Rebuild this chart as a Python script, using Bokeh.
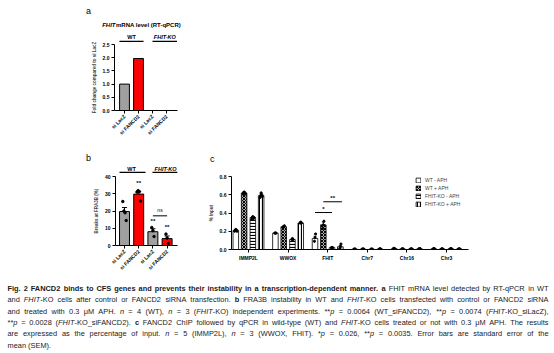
import math
import re
from bokeh.plotting import figure
from bokeh.models import (Range1d, FixedTicker, Whisker, TeeHead, ColumnDataSource,
                          Legend, LegendItem, NumeralTickFormatter)
from bokeh.layouts import column, row
from bokeh.embed import file_html
from bokeh.resources import INLINE
from bokeh.core.properties import value

# ---------------- data ----------------
# panel a
a_labels = ["si LacZ", "si FANCD2", "si LacZ", "si FANCD2"]
a_values = [1.0, 1.97, 0.0, 0.0]
a_colors = ["#a0a0a0", "#ff0000", "#a0a0a0", "#ff0000"]
a_yticks = [0.0, 0.5, 1.0, 1.5, 2.0, 2.5]

# panel b
b_labels = ["si LacZ", "si FANCD2", "si LacZ", "si FANCD2"]
b_means = [19.7, 29.8, 8.0, 4.0]
b_sem = [2.3, 1.6, 1.7, 1.5]
b_points = [[25.5, 20.0, 19.0, 14.5], [31.0, 31.8, 31.2, 25.8], [10.4, 8.6, 5.2], [6.6, 4.3, 1.2]]
b_stars = ["", "**", "**", "**"]
b_star_y = [0, 36.2, 14.4, 10.8]
b_yticks = [0, 10, 20, 30, 40]

# panel c
c_groups = ["IMMP2L", "WWOX", "FHIT", "Chr7", "Chr16", "Chr3"]
c_conditions = ["WT - APH", "WT + APH", "FHIT-KO - APH", "FHIT-KO + APH"]
c_wt_minus = [0.21, 0.18, 0.12, 0.004, 0.010, 0.008]
c_wt_plus = [0.62, 0.25, 0.27, 0.005, 0.006, 0.006]
c_ko_minus = [0.35, 0.11, 0.02, 0.004, 0.006, 0.008]
c_ko_plus = [0.59, 0.29, 0.03, 0.006, 0.008, 0.006]
c_sem_wt_minus = [0.010, 0.003, 0.025, 0.002, 0.002, 0.002]
c_sem_wt_plus = [0.010, 0.008, 0.030, 0.002, 0.002, 0.002]
c_sem_ko_minus = [0.012, 0.006, 0.004, 0.002, 0.002, 0.002]
c_sem_ko_plus = [0.020, 0.008, 0.015, 0.002, 0.002, 0.002]
c_pts_wt_minus = [[0.20, 0.21, 0.22, 0.21, 0.20], [0.18, 0.18, 0.18], [0.09, 0.13, 0.17],
                  [0.004, 0.004, 0.005], [0.012, 0.010, 0.008], [0.008, 0.008, 0.009]]
c_pts_wt_plus = [[0.61, 0.62, 0.63, 0.62, 0.61], [0.24, 0.25, 0.26], [0.23, 0.27, 0.31],
                 [0.005, 0.005, 0.006], [0.006, 0.006, 0.007], [0.006, 0.007, 0.006]]
c_pts_ko_minus = [[0.33, 0.35, 0.36, 0.34, 0.35], [0.11, 0.12, 0.11], [0.02, 0.02, 0.02],
                  [0.004, 0.004, 0.004], [0.006, 0.006, 0.007], [0.008, 0.008, 0.009]]
c_pts_ko_plus = [[0.57, 0.59, 0.62, 0.60, 0.58], [0.29, 0.30, 0.29], [0.01, 0.03, 0.06],
                 [0.006, 0.006, 0.007], [0.008, 0.008, 0.009], [0.006, 0.006, 0.007]]
c_yticks = [0.0, 0.2, 0.4, 0.6, 0.8]

caption_lines = [
    "<b>Fig. 2 FANCD2 binds to CFS genes and prevents their instability in a transcription-dependent manner. a</b> FHIT mRNA level detected by RT-qPCR in WT",
    "and <i>FHIT</i>-KO cells after control or FANCD2 siRNA transfection. <b>b</b> FRA3B instability in WT and <i>FHIT</i>-KO cells transfected with control or FANCD2 siRNA",
    "and treated with 0.3 \u03bcM APH. <i>n</i> = 4 (WT), <i>n</i> = 3 (<i>FHIT</i>-KO) independent experiments. **<i>p</i> = 0.0064 (WT_siFANCD2), **<i>p</i> = 0.0074 (<i>FHIT</i>-KO_siLacZ),",
    "**<i>p</i> = 0.0028 (<i>FHIT</i>-KO_siFANCD2). <b>c</b> FANCD2 ChIP followed by qPCR in wild-type (WT) and <i>FHIT</i>-KO cells treated or not with 0.3 \u03bcM APH. The results",
    "are expressed as the percentage of input. <i>n</i> = 5 (IMMP2L), <i>n</i> = 3 (WWOX, FHIT). *<i>p</i> = 0.026, **<i>p</i> = 0.0035. Error bars are standard error of the",
    "mean (SEM).",
]

FONT = "Liberation Sans"
TF = value(FONT)

# Arial / Liberation Sans advance widths (1/1000 em)
_REG = {' ': 278, '(': 333, ')': 333, '*': 389, ',': 278, '-': 333, '.': 278, ':': 278, '=': 584, '_': 556,
        'A': 667, 'B': 667, 'C': 722, 'D': 722, 'E': 667, 'F': 611, 'G': 778, 'H': 722, 'I': 278, 'J': 500,
        'K': 667, 'L': 556, 'M': 833, 'N': 722, 'O': 778, 'P': 667, 'Q': 778, 'R': 722, 'S': 667, 'T': 611,
        'U': 722, 'V': 667, 'W': 944, 'X': 667, 'Y': 667, 'Z': 611,
        'a': 556, 'b': 556, 'c': 500, 'd': 556, 'e': 556, 'f': 278, 'g': 556, 'h': 556, 'i': 222, 'j': 222,
        'k': 500, 'l': 222, 'm': 833, 'n': 556, 'o': 556, 'p': 556, 'q': 556, 'r': 333, 's': 500, 't': 278,
        'u': 556, 'v': 500, 'w': 722, 'x': 500, 'y': 500, 'z': 500}
_BOLD = dict(_REG)
_BOLD.update({':': 333, 'A': 722, 'B': 722, 'J': 556, 'K': 722, 'L': 611,
              'b': 611, 'c': 556, 'd': 611, 'f': 333, 'g': 611, 'h': 611, 'i': 278, 'j': 278, 'k': 556,
              'l': 278, 'm': 889, 'n': 611, 'o': 611, 'p': 611, 'q': 611, 'r': 389, 's': 556, 't': 333,
              'u': 611, 'v': 556, 'w': 778, 'x': 556, 'y': 556})


def twidth(s, st, fs):
    tab = _BOLD if st == "bold" else _REG
    return sum(tab.get(ch, 556) for ch in s) / 1000.0 * fs


def style(p, tick_fs="5px"):
    for ax in p.axis:
        ax.axis_line_color = "black"
        ax.axis_line_width = 1
        ax.major_tick_line_color = "black"
        ax.major_tick_line_width = 1
        ax.major_tick_in = 0
        ax.major_tick_out = 3
        ax.minor_tick_line_color = None
        ax.major_label_text_font = FONT
        ax.major_label_text_font_size = tick_fs
        ax.major_label_text_font_style = "bold"
        ax.major_label_text_color = "black"
        ax.axis_label_text_font = FONT
        ax.axis_label_text_font_size = "4.5px"
        ax.axis_label_text_font_style = "bold"
        ax.major_label_standoff = 2
        ax.axis_label_standoff = 3
    p.grid.visible = False
    p.outline_line_color = None
    p.background_fill_color = "white"
    p.border_fill_color = "white"


def header(width, height):
    # strip whose data units are its own pixels (y grows downwards)
    h = figure(width=width, height=height, x_range=Range1d(0, width), y_range=Range1d(height, 0),
               output_backend="svg", toolbar_location=None, min_border=0,
               x_axis_type=None, y_axis_type=None, frame_align=False)
    h.grid.visible = False
    h.outline_line_color = None
    return h


def htext(h, x, y, t, size="5.5px", st="bold", align="center"):
    h.text(x=[x], y=[y], text=[t], text_font=TF, text_font_size=size, text_font_style=st,
           text_align=align, text_baseline="middle", text_color="black")


def to_px(fig_left, x0, scale, x):
    return fig_left + (x - x0) * scale


xs4 = [0, 1, 2, 3]

# ---------------- panel a ----------------
A_X0, A_X1 = -0.714, 3.786
pa = figure(width=200, height=98, x_range=Range1d(A_X0, A_X1), y_range=Range1d(0, 2.5),
            output_backend="svg", toolbar_location=None, frame_align=False,
            min_border_left=114, min_border_right=23, min_border_top=2, min_border_bottom=23)
pa.vbar(x=xs4, top=a_values, width=0.7, fill_color=a_colors, line_color="black", line_width=1)
style(pa)
pa.xaxis.ticker = FixedTicker(ticks=xs4)
pa.xaxis.major_label_overrides = {i: t for i, t in zip(xs4, a_labels)}
pa.xaxis.major_label_orientation = math.pi / 4
pa.yaxis.ticker = FixedTicker(ticks=a_yticks)
pa.yaxis.formatter = NumeralTickFormatter(format="0.0")
pa.yaxis.axis_label = "Fold change compared to si LacZ"

sa = 63 / (A_X1 - A_X0)
ha = header(200, 42)
ha.segment(x0=[to_px(114, A_X0, sa, -0.36), to_px(114, A_X0, sa, 2.0)], y0=[41, 41],
           x1=[to_px(114, A_X0, sa, 1.36), to_px(114, A_X0, sa, 3.75)], y1=[41, 41],
           line_color="black", line_width=1.5)
htext(ha, to_px(114, A_X0, sa, 0.5), 36, "WT")
htext(ha, to_px(114, A_X0, sa, 2.88), 36, "FHIT-KO", st="bold italic")
htext(ha, 88, 10, "a", size="9px", st="normal")
htext(ha, 115, 24, "FHIT", size="6px", st="bold italic", align="right")
htext(ha, 115.5, 24, " mRNA level (RT-qPCR)", size="6px", align="left")

# ---------------- panel b ----------------
B_X0, B_X1 = -0.634, 3.732
pb = figure(width=200, height=102, x_range=Range1d(B_X0, B_X1), y_range=Range1d(0, 40),
            output_backend="svg", toolbar_location=None, frame_align=False,
            min_border_left=115, min_border_right=23, min_border_top=3, min_border_bottom=26)
pb.vbar(x=xs4, top=b_means, width=0.7, fill_color=a_colors, line_color="black", line_width=1)
bsrc = ColumnDataSource(dict(x=xs4, lower=b_means, upper=[m + s for m, s in zip(b_means, b_sem)]))
pb.add_layout(Whisker(source=bsrc, base="x", upper="upper", lower="lower", line_width=1,
                      upper_head=TeeHead(size=5, line_width=1), lower_head=None))
px, py = [], []
for i, pts in enumerate(b_points):
    n = len(pts)
    for k, v in enumerate(pts):
        px.append(i + (k - (n - 1) / 2) * 0.08)
        py.append(v)
pb.scatter(px, py, size=2.5, color="black")
style(pb)
pb.xaxis.ticker = FixedTicker(ticks=xs4)
pb.xaxis.major_label_overrides = {i: t for i, t in zip(xs4, b_labels)}
pb.xaxis.major_label_orientation = math.pi / 4
pb.yaxis.ticker = FixedTicker(ticks=b_yticks)
pb.yaxis.axis_label = "Breaks at FRA3B (%)"
pb.text(x=xs4, y=b_star_y, text=b_stars, text_font=TF, text_font_size="6px",
        text_font_style="bold", text_align="center", text_baseline="middle")
pb.segment(x0=[2.0], y0=[17.2], x1=[3.0], y1=[17.2], line_color="black", line_width=1)
pb.text(x=[2.5], y=[20.8], text=["ns"], text_font=TF, text_font_size="5px",
        text_align="center", text_baseline="middle")

sb = 62 / (B_X1 - B_X0)
hb = header(200, 33)
hb.segment(x0=[to_px(115, B_X0, sb, -0.35), to_px(115, B_X0, sb, 1.97)], y0=[32, 32],
           x1=[to_px(115, B_X0, sb, 1.48), to_px(115, B_X0, sb, 3.72)], y1=[32, 32],
           line_color="black", line_width=1.5)
htext(hb, to_px(115, B_X0, sb, 0.49), 28, "WT")
htext(hb, to_px(115, B_X0, sb, 2.89), 28, "FHIT-KO", st="bold italic")
htext(hb, 88, 17, "b", size="9px", st="normal")

# ---------------- panel c ----------------
pc = figure(width=354, height=102, x_range=Range1d(-0.429, 5.556), y_range=Range1d(0, 0.8),
            output_backend="svg", toolbar_location=None, frame_align=False,
            min_border_left=31, min_border_right=86, min_border_top=3, min_border_bottom=26)
offsets = [-0.32, -0.11, 0.11, 0.32]
series = [c_wt_minus, c_wt_plus, c_ko_minus, c_ko_plus]
sems = [c_sem_wt_minus, c_sem_wt_plus, c_sem_ko_minus, c_sem_ko_plus]
points = [c_pts_wt_minus, c_pts_wt_plus, c_pts_ko_minus, c_pts_ko_plus]
hatches = [None, "diagonal_cross", "horizontal_line", "vertical_line"]
gx = list(range(len(c_groups)))
items = []
for j in range(4):
    xj = [g + offsets[j] for g in gx]
    kw = dict(fill_color="white", line_color="black", line_width=0.8)
    if hatches[j]:
        kw.update(hatch_pattern=hatches[j], hatch_color="black", hatch_scale=3, hatch_weight=1.2)
    r = pc.vbar(x=xj, top=series[j], width=0.14, **kw)
    items.append(LegendItem(label=c_conditions[j], renderers=[r]))
    src = ColumnDataSource(dict(x=xj, lower=series[j], upper=[m + s for m, s in zip(series[j], sems[j])]))
    pc.add_layout(Whisker(source=src, base="x", upper="upper", lower="lower", line_width=0.8,
                          upper_head=TeeHead(size=3, line_width=0.8), lower_head=None))
    qx, qy = [], []
    for g, pts in enumerate(points[j]):
        n = len(pts)
        for k, v in enumerate(pts):
            qx.append(g + offsets[j] + (k - (n - 1) / 2) * 0.015)
            qy.append(v)
    pc.scatter(qx, qy, size=2.2, color="black")
style(pc)
pc.xaxis.ticker = FixedTicker(ticks=gx)
pc.xaxis.major_label_overrides = {i: t for i, t in zip(gx, c_groups)}
pc.yaxis.ticker = FixedTicker(ticks=c_yticks)
pc.yaxis.formatter = NumeralTickFormatter(format="0.0")
pc.yaxis.axis_label = "% Input"
pc.segment(x0=[1.68, 1.89], y0=[0.405, 0.523], x1=[2.11, 2.36], y1=[0.405, 0.523],
           line_color="black", line_width=1)
pc.text(x=[1.895, 2.125], y=[0.44, 0.565], text=["*", "**"], text_font=TF,
        text_font_size="6px", text_font_style="bold", text_align="center", text_baseline="middle")
leg = Legend(items=items, location=(184, 42), label_text_font=FONT, label_text_font_size="5px",
             glyph_width=6, glyph_height=6, label_height=6, spacing=2, padding=0, margin=0,
             border_line_color=None, background_fill_alpha=0, label_standoff=4)
pc.add_layout(leg, "center")

hc = header(354, 33)
htext(hc, 11.7, 18, "c", size="9px", st="normal")

# ---------------- caption (justified, word by word) ----------------
CAP_W, CAP_H, CAP_LEFT, CAP_TEXTW = 554, 78, 7, 541


def parse_words(line):
    runs = []
    for m in re.finditer(r'<(b|i)>(.*?)</\1>|([^<]+)', line):
        if m.group(3) is not None:
            runs.append((m.group(3), "normal"))
        else:
            runs.append((m.group(2), "bold" if m.group(1) == "b" else "italic"))
    words = [[]]
    for txt, st in runs:
        parts = txt.split(" ")
        for k, part in enumerate(parts):
            if k > 0:
                words.append([])
            if part:
                words[-1].append((part, st))
    return [w for w in words if w]


parsed = [parse_words(l) for l in caption_lines]
fs = 7.4
nat_max = 0
for words in parsed[:-1]:
    nat = sum(twidth(s, st, fs) for w in words for s, st in w) + (len(words) - 1) * twidth(" ", "normal", fs) * 0.85
    nat_max = max(nat_max, nat)
if nat_max > CAP_TEXTW:
    fs = fs * CAP_TEXTW / nat_max

pcap = header(CAP_W, CAP_H)
seg = {"normal": ([], [], []), "bold": ([], [], []), "italic": ([], [], [])}
for li, words in enumerate(parsed):
    yline = 13 + li * 11.3
    wsum = sum(twidth(s, st, fs) for w in words for s, st in w)
    gaps = len(words) - 1
    if li < len(parsed) - 1 and gaps > 0:
        gap = (CAP_TEXTW - wsum) / gaps
    else:
        gap = twidth(" ", "normal", fs)
    xcur = CAP_LEFT
    for w in words:
        for s, st in w:
            seg[st][0].append(xcur)
            seg[st][1].append(yline)
            seg[st][2].append(s)
            xcur += twidth(s, st, fs)
        xcur += gap
for st, (sx, sy, stx) in seg.items():
    if stx:
        pcap.text(x=sx, y=sy, text=stx, text_font=TF, text_font_size="%.2fpx" % fs,
                  text_font_style=st, text_align="left", text_baseline="middle", text_color="#1a1a1a")

row_head = row(hb, hc, width=554, height=33)
row_main = row(pb, pc, width=554, height=102)
layout = column(ha, pa, row_head, row_main, pcap)
open("out.html", "w").write(file_html(layout, INLINE))
